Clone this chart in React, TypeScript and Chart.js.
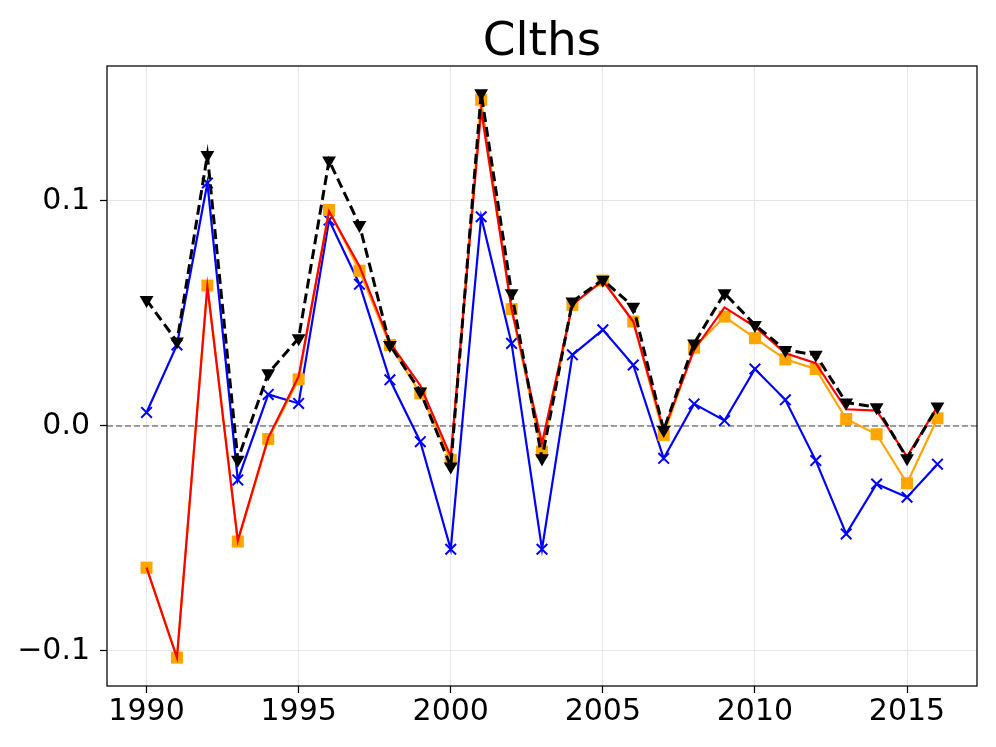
import React, { useEffect, useRef } from "react";
import { Chart, registerables } from "chart.js";

Chart.register(...registerables);

const TITLE = "Clths";
const years = [1990, 1991, 1992, 1993, 1994, 1995, 1996, 1997, 1998, 1999, 2000, 2001, 2002, 2003, 2004, 2005, 2006, 2007, 2008, 2009, 2010, 2011, 2012, 2013, 2014, 2015, 2016];
const blueSeries = [0.006, 0.036, 0.108, -0.024, 0.014, 0.010, 0.0915, 0.063, 0.0205, -0.007, -0.0548, 0.093, 0.0367, -0.0548, 0.0316, 0.0427, 0.0271, -0.0144, 0.0098, 0.0024, 0.0253, 0.0116, -0.0154, -0.048, -0.0258, -0.0317, -0.017];
const orangeSeries = [-0.063, -0.103, 0.0624, -0.0514, -0.0058, 0.0207, 0.096, 0.069, 0.036, 0.0145, -0.0151, 0.145, 0.0519, -0.0114, 0.0538, 0.0646, 0.0464, -0.004, 0.0348, 0.0486, 0.039, 0.0296, 0.0253, 0.0031, -0.0037, -0.0255, 0.0034];
const redSeries = [-0.063, -0.103, 0.062, -0.051, -0.0053, 0.022, 0.0953, 0.071, 0.037, 0.018, -0.0136, 0.1404, 0.052, -0.0077, 0.054, 0.0646, 0.0464, -0.002, 0.0338, 0.0527, 0.0441, 0.0323, 0.0279, 0.0074, 0.0068, -0.0136, 0.0086];
const blackSeries = [0.056, 0.0375, 0.1204, -0.015, 0.0234, 0.039, 0.118, 0.0893, 0.036, 0.0153, -0.018, 0.1479, 0.059, -0.0144, 0.0553, 0.065, 0.053, -0.0018, 0.0367, 0.059, 0.0449, 0.0338, 0.0316, 0.0104, 0.0083, -0.0144, 0.0086];
const xTicks = [1990, 1995, 2000, 2005, 2010, 2015];
const yTicks = [-0.1, 0.0, 0.1];
const xRange = [1988.7, 2017.3];
const yRange = [-0.1156, 0.16];

const FONT = "'DejaVu Sans', sans-serif";

const toPoints = (vals: number[]) => years.map((x, i) => ({ x, y: vals[i] }));

const framePlugin = {
  id: "frame",
  beforeDatasetsDraw(chart: any) {
    const { ctx, chartArea, scales } = chart;
    const y0 = scales.y.getPixelForValue(0);
    ctx.save();
    ctx.strokeStyle = "#808080";
    ctx.lineWidth = 1.5;
    ctx.setLineDash([6, 3]);
    ctx.beginPath();
    ctx.moveTo(chartArea.left, y0);
    ctx.lineTo(chartArea.right, y0);
    ctx.stroke();
    ctx.restore();
  },
  afterDraw(chart: any) {
    const { ctx, chartArea } = chart;
    ctx.save();
    ctx.strokeStyle = "#000";
    ctx.lineWidth = 1.25;
    ctx.strokeRect(chartArea.left, chartArea.top, chartArea.right - chartArea.left, chartArea.bottom - chartArea.top);
    ctx.fillStyle = "#000";
    ctx.font = `47px ${FONT}`;
    ctx.textAlign = "center";
    ctx.textBaseline = "alphabetic";
    ctx.fillText(TITLE, (chartArea.left + chartArea.right) / 2, 55);
    ctx.restore();
  },
};

export default function App() {
  const ref = useRef<HTMLCanvasElement>(null);
  useEffect(() => {
    document.body.style.margin = "0";
    const canvas = ref.current!;
    const chart = new Chart(canvas, {
      type: "line",
      data: {
        datasets: [
          {
            data: toPoints(blackSeries),
            borderColor: "#000000",
            backgroundColor: "#000000",
            borderWidth: 3,
            borderDash: [10, 5],
            pointStyle: "triangle",
            rotation: 180,
            pointRadius: 8,
            pointBorderWidth: 0,
            pointBackgroundColor: "#000000",
            tension: 0,
          },
          {
            data: toPoints(redSeries),
            borderColor: "#ff0000",
            backgroundColor: "#ff0000",
            borderWidth: 2.2,
            pointRadius: 0,
            tension: 0,
          },
          {
            data: toPoints(orangeSeries),
            borderColor: "#ffa500",
            backgroundColor: "#ffa500",
            borderWidth: 2.2,
            pointStyle: "rect",
            pointRadius: 8.5,
            pointBorderWidth: 0,
            pointBackgroundColor: "#ffa500",
            tension: 0,
          },
          {
            data: toPoints(blueSeries),
            borderColor: "#0000ff",
            backgroundColor: "#0000ff",
            borderWidth: 2.2,
            pointStyle: "crossRot",
            pointRadius: 7.5,
            pointBorderWidth: 2,
            pointBorderColor: "#0000ff",
            tension: 0,
          },
        ],
      },
      options: {
        animation: false,
        responsive: false,
        devicePixelRatio: 1,
        layout: { padding: { left: 0, right: 19, top: 66, bottom: 0 } },
        plugins: { legend: { display: false }, tooltip: { enabled: false }, title: { display: false } },
        scales: {
          x: {
            type: "linear",
            min: xRange[0],
            max: xRange[1],
            afterBuildTicks: (scale: any) => {
              scale.ticks = xTicks.map((v) => ({ value: v }));
            },
            afterFit: (scale: any) => {
              scale.height = 61;
            },
            grid: { color: "#e6e6e6", lineWidth: 1, tickLength: 7, tickColor: "#000", tickWidth: 1.25 },
            border: { display: false },
            ticks: {
              font: { family: FONT, size: 30 },
              color: "#000",
              padding: 1,
              maxRotation: 0,
              autoSkip: false,
              callback: (v: any) => String(v),
            },
          },
          y: {
            type: "linear",
            min: yRange[0],
            max: yRange[1],
            afterBuildTicks: (scale: any) => {
              scale.ticks = yTicks.map((v) => ({ value: v }));
            },
            afterFit: (scale: any) => {
              scale.width = 107;
            },
            grid: { color: "#e6e6e6", lineWidth: 1, tickLength: 7, tickColor: "#000", tickWidth: 1.25 },
            border: { display: false },
            ticks: {
              font: { family: FONT, size: 30 },
              color: "#000",
              padding: 10,
              autoSkip: false,
              callback: (v: any) => {
                const n = Number(v);
                const s = Math.abs(n).toFixed(1);
                return n < 0 ? "\u2212" + s : s;
              },
            },
          },
        },
      },
      plugins: [framePlugin],
    });
    return () => chart.destroy();
  }, []);
  return (
    <div style={{ width: 996, height: 747, position: "relative" }}>
      <canvas ref={ref} width={996} height={747} style={{ display: "block", width: 996, height: 747 }} />
    </div>
  );
}
